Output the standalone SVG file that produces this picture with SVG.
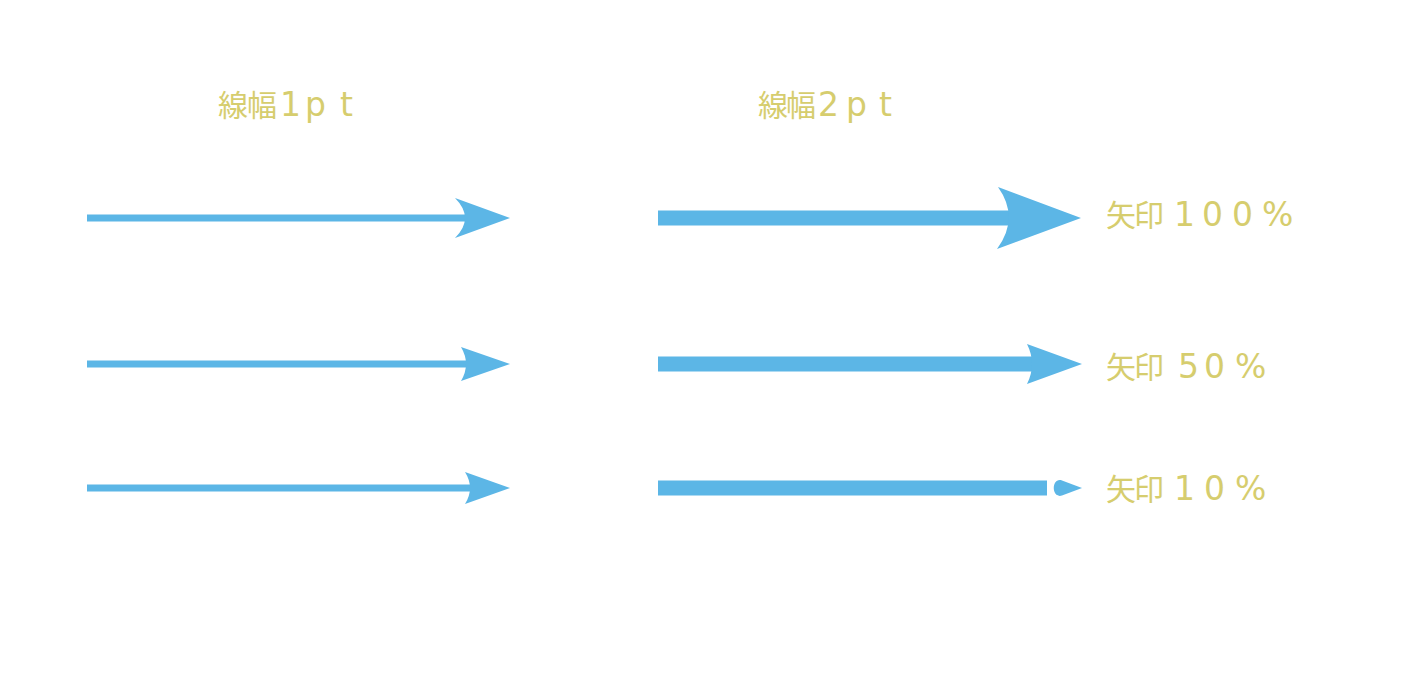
<svg xmlns="http://www.w3.org/2000/svg" width="1422" height="688" viewBox="0 0 1422 688">
<style>
.ln{stroke:#5cb6e6;fill:none}
.thin{stroke-width:7}
.thick{stroke-width:15}
.hd{fill:#5cb6e6}
.lbl{font-family:"Noto Sans CJK JP","Noto Sans",sans-serif;fill:#d6cd6e}
.cj{font-size:30px}
.la{font-family:"DejaVu Sans","Noto Sans CJK JP",sans-serif;font-size:33px}
</style>
<rect width="1422" height="688" fill="#ffffff"/>
<g id="title-1pt"><text class="lbl" y="116"><tspan class="cj" x="218 247">線幅</tspan><tspan class="la" x="280 305 340">1pt</tspan></text></g>
<g id="title-2pt"><text class="lbl" y="116"><tspan class="cj" x="758 786">線幅</tspan><tspan class="la" x="818 846 879">2pt</tspan></text></g>
<g id="label-100"><text class="lbl" y="226"><tspan class="cj" x="1106 1134">矢印</tspan><tspan class="la" x="1174 1202 1232 1262">100%</tspan></text></g>
<g id="label-50"><text class="lbl" y="378"><tspan class="cj" x="1106 1134">矢印</tspan><tspan class="la" x="1178 1204 1235">50%</tspan></text></g>
<g id="label-10"><text class="lbl" y="500"><tspan class="cj" x="1106 1134">矢印</tspan><tspan class="la" x="1174 1204 1235">10%</tspan></text></g>
<g id="connectors">
<g id="arrow-1pt-100"><line class="ln thin" x1="87" y1="218" x2="466" y2="218"/><path class="hd" d="M510,218 L455,198 Q475,218 455,238 Z"/></g>
<g id="arrow-1pt-50"><line class="ln thin" x1="87" y1="364" x2="468" y2="364"/><path class="hd" d="M510,364 L461,347 Q471,364 461,381 Z"/></g>
<g id="arrow-1pt-10"><line class="ln thin" x1="87" y1="488" x2="472" y2="488"/><path class="hd" d="M510,488 L465,472 Q475,488 465,504 Z"/></g>
<g id="arrow-2pt-100"><line class="ln thick" x1="658" y1="218" x2="1010" y2="218"/><path class="hd" d="M1081,218 L998,187 Q1020,218 997,249 Z"/></g>
<g id="arrow-2pt-50"><line class="ln thick" x1="658" y1="364" x2="1034" y2="364"/><path class="hd" d="M1082,364 L1027,344 Q1037,364 1027,384 Z"/></g>
<g id="arrow-2pt-10"><line class="ln thick" x1="658" y1="488" x2="1047" y2="488"/><path class="hd" d="M1082,488 L1062,480.5 C1051,477 1051,499 1062,495.5 Z"/></g>
</g>
</svg>
